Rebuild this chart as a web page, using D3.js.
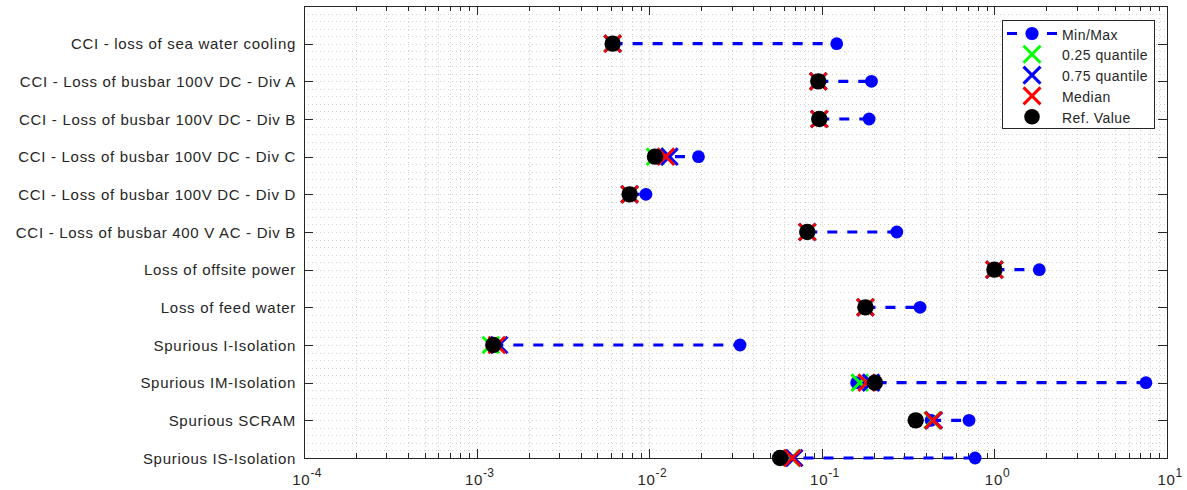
<!DOCTYPE html>
<html>
<head>
<meta charset="utf-8">
<script src="https://cdn.jsdelivr.net/npm/d3@7"></script>
<style>
  html, body { margin: 0; padding: 0; background: #fff; }
  svg { display: block; }
  text { font-family: "Liberation Sans", Arial, Helvetica, sans-serif; fill: #262626; }
</style>
</head>
<body>
<svg id="chart" width="1187" height="490"></svg>
<script>
// Initiating events, top to bottom
const categories = [
  "CCI - loss of sea water cooling",
  "CCI - Loss of busbar 100V DC - Div A",
  "CCI - Loss of busbar 100V DC - Div B",
  "CCI - Loss of busbar 100V DC - Div C",
  "CCI - Loss of busbar 100V DC - Div D",
  "CCI - Loss of busbar 400 V AC - Div B",
  "Loss of offsite power",
  "Loss of feed water",
  "Spurious I-Isolation",
  "Spurious IM-Isolation",
  "Spurious SCRAM",
  "Spurious IS-Isolation"
];
const minValues    = [0.00614, 0.0954, 0.0967, 0.0108, 0.0077, 0.0824, 1.0, 0.179, 0.00125, 0.159, 0.430, 0.0600];
const maxValues    = [0.122, 0.194, 0.188, 0.0193, 0.00957, 0.272, 1.82, 0.371, 0.0336, 7.55, 0.713, 0.773];
const q25Values    = [0.00614, 0.0954, 0.0967, 0.0108, 0.0077, 0.0824, 1.0, 0.179, 0.00121, 0.166, 0.438, 0.0670];
const q75Values    = [0.00614, 0.0954, 0.0967, 0.0131, 0.0077, 0.0824, 1.0, 0.179, 0.00135, 0.193, 0.446, 0.0692];
const medianValues = [0.00614, 0.0954, 0.0967, 0.0125, 0.0077, 0.0824, 1.0, 0.179, 0.00131, 0.182, 0.442, 0.0675];
const refValues    = [0.00614, 0.0954, 0.0967, 0.0108, 0.0077, 0.0824, 1.0, 0.179, 0.00125, 0.203, 0.350, 0.0573];
const xTickExponents = [-4, -3, -2, -1, 0, 1];
const legendLabels = ["Min/Max", "0.25 quantile", "0.75 quantile", "Median", "Ref. Value"];

const svg = d3.select("#chart");
const plotLeft = 304, plotRight = 1167, plotTop = 6, plotBottom = 458;

const x = d3.scaleLog().domain([1e-4, 10]).range([plotLeft, plotRight]);
const y = d3.scaleLinear().domain([0, categories.length]).range([plotTop, plotBottom]);
const rowY = i => y(i + 1);

const ink = "#262626";
const gridColor = "#d2d2d2";

// Grid: minor and major, dotted
const grid = svg.append("g");
const xGridVals = [];
for (let e = -4; e < 1; e++) for (let m = 1; m <= 9; m++) xGridVals.push(m * Math.pow(10, e));
xGridVals.push(10);
grid.selectAll("line.gx").data(xGridVals).join("line")
  .attr("x1", d => Math.round(x(d)) + 0.5).attr("x2", d => Math.round(x(d)) + 0.5)
  .attr("y1", plotTop).attr("y2", plotBottom)
  .attr("stroke", gridColor).attr("stroke-width", 1).attr("stroke-dasharray", "1,3");
const yGridVals = d3.range(0, categories.length * 5 + 1).map(k => k / 5);
grid.selectAll("line.gy").data(yGridVals).join("line")
  .attr("x1", plotLeft).attr("x2", plotRight)
  .attr("y1", d => Math.round(y(d)) + 0.5).attr("y2", d => Math.round(y(d)) + 0.5)
  .attr("stroke", gridColor).attr("stroke-width", 1).attr("stroke-dasharray", "1,3");

// Axes with inward ticks
const axes = svg.append("g");
const majorX = xTickExponents.map(e => Math.pow(10, e));
const minorX = xGridVals.filter(v => !majorX.some(m => Math.abs(m - v) / m < 1e-9));
function xTicks(vals, len) {
  axes.selectAll(null).data(vals).join("line")
    .attr("x1", d => Math.round(x(d)) + 0.5).attr("x2", d => Math.round(x(d)) + 0.5)
    .attr("y1", plotBottom).attr("y2", plotBottom - len).attr("stroke", ink);
  axes.selectAll(null).data(vals).join("line")
    .attr("x1", d => Math.round(x(d)) + 0.5).attr("x2", d => Math.round(x(d)) + 0.5)
    .attr("y1", plotTop).attr("y2", plotTop + len).attr("stroke", ink);
}
xTicks(majorX, 9);
xTicks(minorX, 5);
const yTickVals = d3.range(1, categories.length + 1);
axes.selectAll(null).data(yTickVals).join("line")
  .attr("x1", plotLeft).attr("x2", plotLeft + 9)
  .attr("y1", d => Math.round(y(d)) + 0.5).attr("y2", d => Math.round(y(d)) + 0.5).attr("stroke", ink);
axes.selectAll(null).data(yTickVals).join("line")
  .attr("x1", plotRight).attr("x2", plotRight - 9)
  .attr("y1", d => Math.round(y(d)) + 0.5).attr("y2", d => Math.round(y(d)) + 0.5).attr("stroke", ink);
axes.append("rect")
  .attr("x", plotLeft + 0.5).attr("y", plotTop + 0.5)
  .attr("width", plotRight - plotLeft).attr("height", plotBottom - plotTop)
  .attr("fill", "none").attr("stroke", ink).attr("stroke-width", 1);

// Category labels
svg.append("g").selectAll("text").data(categories).join("text")
  .attr("x", plotLeft - 8).attr("y", (d, i) => rowY(i))
  .attr("text-anchor", "end").attr("dominant-baseline", "central")
  .style("font-size", "15px").style("letter-spacing", "0.7px")
  .text(d => d);

// Decade labels 10^n
const xl = svg.append("g").selectAll("text").data(xTickExponents).join("text")
  .attr("x", e => x(Math.pow(10, e)) + 3).attr("y", 485)
  .attr("text-anchor", "middle")
  .style("font-size", "15px").style("letter-spacing", "0.7px");
xl.append("tspan").text("10");
xl.append("tspan").attr("dy", -8).style("font-size", "12px").style("letter-spacing", "0.3px").text(e => String(e));

// Marker helpers
function crossPath(cx, cy, h) {
  return `M${cx - h},${cy - h}L${cx + h},${cy + h}M${cx - h},${cy + h}L${cx + h},${cy - h}`;
}
const marks = svg.append("g");

// Min/Max dashed ranges with end markers
marks.selectAll("line.range").data(categories).join("line")
  .attr("x1", (d, i) => x(minValues[i])).attr("x2", (d, i) => x(maxValues[i]))
  .attr("y1", (d, i) => rowY(i)).attr("y2", (d, i) => rowY(i))
  .attr("stroke", "#0000ff").attr("stroke-width", 3.2).attr("stroke-dasharray", "10,10");
const endPoints = [];
categories.forEach((c, i) => { endPoints.push([minValues[i], i]); endPoints.push([maxValues[i], i]); });
marks.selectAll("circle.end").data(endPoints).join("circle")
  .attr("cx", d => x(d[0])).attr("cy", d => rowY(d[1])).attr("r", 6.4)
  .attr("fill", "#0000ff");

// Quantile and median crosses
function crosses(vals, color) {
  marks.selectAll(null).data(vals).join("path")
    .attr("d", (v, i) => crossPath(x(v), rowY(i), 8.3))
    .attr("stroke", color).attr("stroke-width", 3).attr("fill", "none");
}
crosses(q25Values, "#00ff00");
crosses(q75Values, "#0000ff");
crosses(medianValues, "#ff0000");

// Reference values
marks.selectAll("circle.ref").data(refValues).join("circle")
  .attr("cx", v => x(v)).attr("cy", (v, i) => rowY(i)).attr("r", 8.2)
  .attr("fill", "#000");

// Legend
const lg = svg.append("g");
lg.append("rect").attr("x", 1002.5).attr("y", 20.5).attr("width", 152).attr("height", 108)
  .attr("fill", "#fff").attr("stroke", ink).attr("stroke-width", 1);
const ly = i => 33.5 + i * 20.8;
const sx = 1032;
lg.append("line").attr("x1", 1007).attr("x2", 1058).attr("y1", ly(0)).attr("y2", ly(0))
  .attr("stroke", "#0000ff").attr("stroke-width", 3.2).attr("stroke-dasharray", "10,10")
  .attr("stroke-dashoffset", 0);
lg.append("circle").attr("cx", sx).attr("cy", ly(0)).attr("r", 6.6).attr("fill", "#0000ff");
["#00ff00", "#0000ff", "#ff0000"].forEach((c, k) => {
  lg.append("path").attr("d", crossPath(sx, ly(k + 1), 8.5)).attr("stroke", c).attr("stroke-width", 3).attr("fill", "none");
});
lg.append("circle").attr("cx", sx).attr("cy", ly(4)).attr("r", 7.8).attr("fill", "#000");
lg.selectAll("text").data(legendLabels).join("text")
  .attr("x", 1062).attr("y", (d, i) => ly(i) + 1).attr("dominant-baseline", "central")
  .style("font-size", "14px").style("letter-spacing", "0.45px")
  .text(d => d);
</script>
</body>
</html>
